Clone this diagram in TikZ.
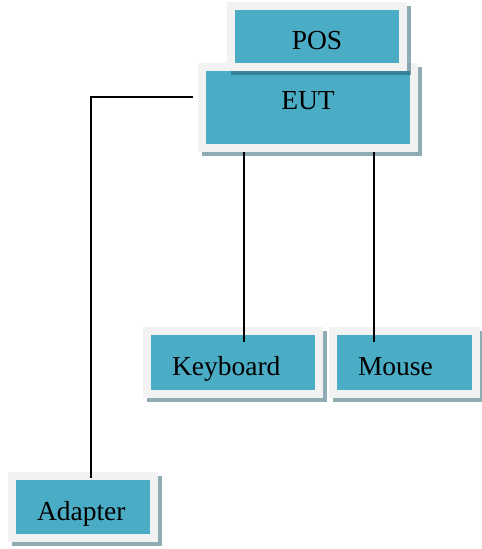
\documentclass[tikz,border=0pt]{standalone}
\usepackage{fontspec}
\setmainfont{Liberation Serif}
\usetikzlibrary{shadows}
\definecolor{boxteal}{HTML}{4BACC6}
\definecolor{boxframe}{HTML}{F2F2F2}
\definecolor{boxshade}{HTML}{205867}
\tikzstyle{unit}=[rectangle,fill=boxframe,inner xsep=29pt,inner ysep=0pt,
  font=\fontsize{27.5}{30}\selectfont,text height=33pt,text depth=6pt,
  drop shadow={shadow xshift=4pt,shadow yshift=-4pt,fill=boxshade,opacity=.5},
  path picture={\fill[boxteal] ([shift={(8pt,8pt)}]path picture bounding box.south west)
    rectangle ([shift={(-8pt,-8pt)}]path picture bounding box.north east);}]
\tikzstyle{link} = [draw,line width=1.6pt,-]

\begin{document}
\begin{tikzpicture}[x=1pt,y=1pt]
      \useasboundingbox (0,0) rectangle (482,549);
      \node[unit,minimum width=220pt,minimum height=89pt,text height=19pt,text depth=14pt] (eut) at (308,441.5) {EUT};
      \node[unit,minimum width=180pt,minimum height=69pt] (pos) at (317,512.5) {POS};
      \node[unit,minimum height=71pt,text width=122pt,align=left] (kbd) at (233,186.5) {Keyboard};
      \node[unit,minimum height=71pt,text width=93pt,align=left] (mouse) at (404.5,186.5) {Mouse};
      \node[unit,minimum height=70pt,text width=92pt,align=left] (adp) at (83,42) {Adapter};
      \draw[link] ([xshift=11pt,yshift=-15pt]kbd.north) -- ([xshift=11pt]kbd.north |- eut.south);
      \draw[link] ([xshift=-30.5pt,yshift=-15pt]mouse.north) -- ([xshift=-30.5pt]mouse.north |- eut.south);
      \draw[link] ([xshift=-5pt,yshift=10.5pt]eut.west) -| ([xshift=8pt,yshift=-6pt]adp.north);
    \end{tikzpicture}
\end{document}
